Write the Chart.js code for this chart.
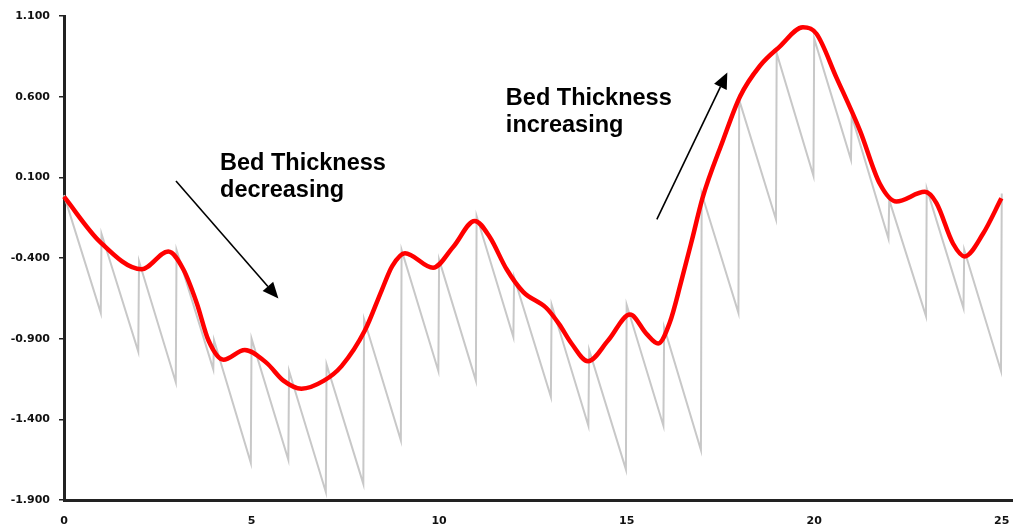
<!DOCTYPE html>
<html>
<head>
<meta charset="utf-8">
<script src="https://cdn.jsdelivr.net/npm/chart.js@4.4.1/dist/chart.umd.min.js"></script>
<style>
  body { margin: 0; background: #fff; }
  #wrap { width: 1013px; height: 529px; position: relative; }
</style>
</head>
<body>
<div id="wrap"><canvas id="graph"></canvas></div>
<script>
// gray raw curve (sawtooth)
const grayX = [0, 0.98, 1.0, 1.98, 2.0, 2.98, 3.0, 3.98, 4.0, 4.98, 5.0, 5.98, 6.0, 6.98, 7.0,
  7.98, 8.0, 8.98, 9.0, 9.98, 10.0, 10.98, 11.0, 11.98, 12.0, 12.98, 13.0, 13.98, 14.0,
  14.98, 15.0, 15.98, 16.0, 16.98, 17.0, 17.98, 18.0, 18.98, 19.0, 19.98, 20.0, 20.98,
  21.0, 21.98, 22.0, 22.98, 23.0, 23.98, 24.0, 24.98, 25.0];
const grayY = [-0.01, -0.74, -0.25, -0.98, -0.42, -1.17, -0.35, -1.09, -0.91, -1.67, -0.90,
  -1.65, -1.10, -1.85, -1.06, -1.80, -0.78, -1.53, -0.35, -1.10, -0.41, -1.16, -0.14,
  -0.89, -0.52, -1.26, -0.69, -1.44, -0.97, -1.71, -0.69, -1.44, -0.83, -1.59, 0.00,
  -0.74, 0.58, -0.16, 0.87, 0.11, 0.96, 0.21, 0.48, -0.28, -0.04, -0.76, 0.03, -0.71,
  -0.35, -1.10, 0.00];

// red smoothed curve
const redX = [0, 0.96, 2.07, 2.78, 3.18, 3.54, 3.85, 4.25, 4.82, 5.4, 5.85, 6.33, 6.93, 7.4,
  8.02, 8.47, 8.75, 9.09, 9.84, 10.38, 10.95, 11.35, 11.8, 12.24, 12.86, 13.2, 13.53,
  13.97, 14.51, 15.09, 15.53, 15.84, 16.15, 16.45, 16.75, 17.02, 17.57, 18.02, 18.55,
  19.08, 19.7, 20.06, 20.59, 21.22, 21.75, 22.19, 22.95, 23.26, 23.7, 24.01, 24.5, 24.99];
const redY = [-0.02, -0.30, -0.47, -0.36, -0.47, -0.68, -0.91, -1.03, -0.97, -1.05, -1.16,
  -1.21, -1.16, -1.07, -0.85, -0.60, -0.45, -0.37, -0.46, -0.33, -0.17, -0.27, -0.47,
  -0.61, -0.71, -0.81, -0.93, -1.04, -0.91, -0.75, -0.87, -0.93, -0.80, -0.55, -0.28,
  -0.03, 0.33, 0.60, 0.79, 0.91, 1.03, 0.99, 0.72, 0.39, 0.06, -0.05, 0.01, -0.06,
  -0.31, -0.39, -0.25, -0.03];

const xTicks = [0, 5, 10, 15, 20, 25];
const yTicks = [-1.9, -1.4, -0.9, -0.4, 0.1, 0.6, 1.1];

// annotations, in data units
const notes = [
  { lines: ["Bed Thickness", "decreasing"], x: 4.16, y: 0.145 },
  { lines: ["Bed Thickness", "increasing"], x: 11.78, y: 0.548 },
];
const arrows = [
  { from: [2.985, 0.077], to: [5.717, -0.651] },
  { from: [15.805, -0.161], to: [17.684, 0.75] },
];

const annotate = {
  id: "annotate",
  afterDraw(chart) {
    const ctx = chart.ctx;
    const xs = chart.scales.x, ys = chart.scales.y;
    ctx.save();
    ctx.fillStyle = "#000";
    ctx.strokeStyle = "#000";
    ctx.font = "bold 23.5px 'Liberation Sans', Arial, sans-serif";
    ctx.textAlign = "left";
    ctx.textBaseline = "alphabetic";
    notes.forEach((n) => {
      const px = xs.getPixelForValue(n.x);
      const py = ys.getPixelForValue(n.y);
      n.lines.forEach((t, i) => ctx.fillText(t, px, py + i * 27));
    });
    arrows.forEach((a) => {
      const x1 = xs.getPixelForValue(a.from[0]), y1 = ys.getPixelForValue(a.from[1]);
      const x2 = xs.getPixelForValue(a.to[0]), y2 = ys.getPixelForValue(a.to[1]);
      const ang = Math.atan2(y2 - y1, x2 - x1);
      const len = 16, half = 7;
      const bx = x2 - len * Math.cos(ang), by = y2 - len * Math.sin(ang);
      ctx.lineWidth = 1.6;
      ctx.beginPath();
      ctx.moveTo(x1, y1);
      ctx.lineTo(bx, by);
      ctx.stroke();
      ctx.beginPath();
      ctx.moveTo(x2, y2);
      ctx.lineTo(bx + half * Math.sin(ang), by - half * Math.cos(ang));
      ctx.lineTo(bx - half * Math.sin(ang), by + half * Math.cos(ang));
      ctx.closePath();
      ctx.fill();
    });
    ctx.restore();
  },
};

const tickFont = { family: "'DejaVu Sans', Verdana, sans-serif", size: 11, weight: "bold" };

const ctx = document.getElementById("graph").getContext("2d");
const chart = new Chart(ctx, {
  type: "line",
  data: {
    datasets: [
      {
        label: "smoothed",
        data: redX.map((x, i) => ({ x: x, y: redY[i] })),
        borderColor: "#ff0000",
        borderWidth: 4.5,
        pointRadius: 0,
        cubicInterpolationMode: "monotone",
        fill: false,
      },
      {
        label: "raw",
        data: grayX.map((x, i) => ({ x: x, y: grayY[i] })),
        borderColor: "#c8c8c8",
        borderWidth: 2,
        pointRadius: 0,
        tension: 0,
        fill: false,
      },
    ],
  },
  options: {
    responsive: true,
    maintainAspectRatio: false,
    animation: false,
    clip: false,
    layout: { padding: { top: 16, right: 0, left: 0, bottom: 0 } },
    plugins: { legend: { display: false }, tooltip: { enabled: false } },
    scales: {
      x: {
        type: "linear",
        min: 0,
        max: 25.3,
        afterBuildTicks: (s) => { s.ticks = xTicks.map((v) => ({ value: v })); },
        afterFit: (s) => { s.height = 29; s.paddingLeft = 0; s.paddingRight = 0; },
        grid: { display: false, drawTicks: false },
        border: { display: true, color: "#222", width: 3 },
        ticks: { color: "#111", font: tickFont, padding: 15, maxRotation: 0, callback: (v) => v },
      },
      y: {
        min: -1.9,
        max: 1.1,
        afterBuildTicks: (s) => { s.ticks = yTicks.map((v) => ({ value: v })); },
        afterFit: (s) => { s.width = 64; },
        grid: { display: true, drawOnChartArea: false, drawTicks: true, tickLength: 5, color: "#222", lineWidth: 1.5 },
        border: { display: true, color: "#222", width: 3 },
        ticks: { color: "#111", font: tickFont, padding: 9, callback: (v) => v.toFixed(3) },
      },
    },
  },
  plugins: [annotate],
});
</script>
</body>
</html>
